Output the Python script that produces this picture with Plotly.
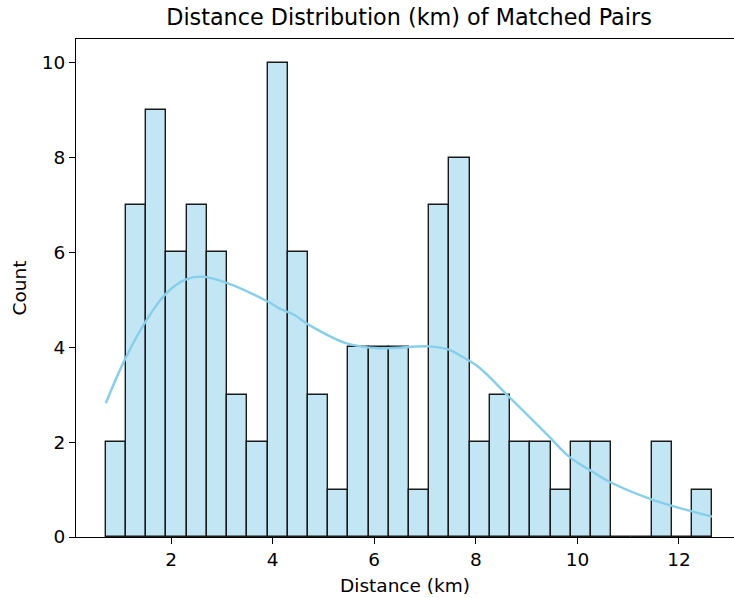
import plotly.graph_objects as go

# Histogram data (30 bins)
bin_start = 0.715
bin_width = 0.398
counts = [2, 7, 9, 6, 7, 6, 3, 2, 10, 6, 3, 1, 4, 4, 4, 1, 7, 8, 2, 3, 2, 2, 1, 2, 2, 0, 0, 2, 0, 1]

# KDE curve
kde_x = [0.715, 1.09, 1.52, 1.91, 2.27, 2.60, 3.12, 3.91, 4.13, 4.43, 4.72, 5.44, 6.10, 7.08,
         7.47, 7.67, 8.06, 8.65, 9.44, 9.83, 10.29, 10.62, 11.47, 12.65]
kde_y = [2.82, 3.74, 4.58, 5.14, 5.42, 5.49, 5.35, 4.96, 4.82, 4.68, 4.47, 4.09, 3.98, 4.02,
         3.95, 3.84, 3.58, 2.96, 2.12, 1.70, 1.38, 1.17, 0.79, 0.43]

x_ticks = [2, 4, 6, 8, 10, 12]
y_ticks = [0, 2, 4, 6, 8, 10]

centers = [bin_start + (i + 0.5) * bin_width for i in range(len(counts))]

font = "DejaVu Sans"
fig = go.Figure()
fig.add_trace(go.Bar(
    x=centers, y=counts, width=bin_width,
    marker=dict(color="rgba(135,206,235,0.5)", line=dict(color="#1a1a1a", width=1.4)),
    showlegend=False, hoverinfo="x+y",
))
fig.add_trace(go.Scatter(
    x=kde_x, y=kde_y, mode="lines", line=dict(color="#87CEEB", width=2.4, shape="spline"),
    showlegend=False,
))

fig.update_layout(
    width=734, height=598,
    margin=dict(l=76, r=0, t=39, b=61),
    plot_bgcolor="white", paper_bgcolor="white",
    bargap=0,
    title=dict(text="Distance Distribution (km) of Matched Pairs", x=409 / 734, xref="container",
               xanchor="center", y=1 - 17 / 598, yanchor="middle",
               font=dict(family=font, size=22.3, color="black")),
    font=dict(family=font, color="black"),
)
fig.update_xaxes(
    range=[0.129, 13.083], tickvals=x_ticks, ticktext=[str(v) for v in x_ticks],
    showgrid=False, zeroline=False, showline=True, mirror=True, linecolor="black", linewidth=1,
    ticks="outside", ticklen=6, tickwidth=1, tickcolor="black", automargin=False,
    tickfont=dict(family=font, size=18.5, color="black"),
    title=dict(text="Distance (km)", font=dict(family=font, size=18.5, color="black"), standoff=9),
)
fig.update_yaxes(
    range=[0, 10.5], tickvals=y_ticks, ticktext=[str(v) for v in y_ticks],
    showgrid=False, zeroline=False, showline=True, mirror=False, linecolor="black", linewidth=1,
    ticks="outside", ticklen=6, tickwidth=1, tickcolor="black", automargin=False,
    tickfont=dict(family=font, size=18.5, color="black"),
    title=dict(text="Count", font=dict(family=font, size=18.5, color="black"), standoff=10),
)

fig.write_html("out.html", config={"displayModeBar": False},
               post_script="document.body.style.margin='0';")
